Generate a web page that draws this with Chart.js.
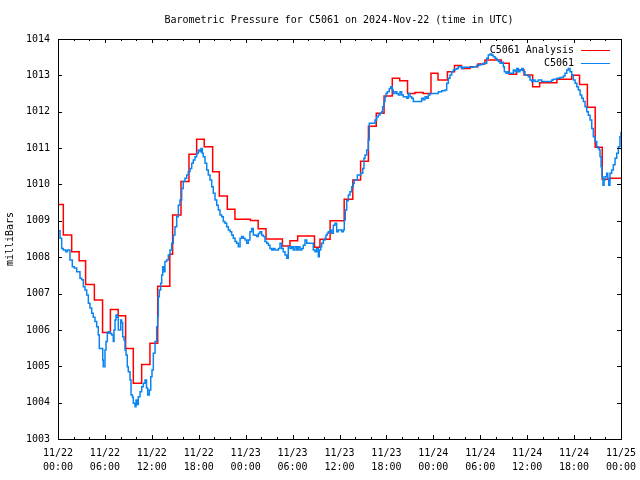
<!DOCTYPE html>
<html>
<head>
<meta charset="utf-8">
<title>Barometric Pressure for C5061</title>
<script src="https://cdn.jsdelivr.net/npm/chart.js@4.4.1/dist/chart.umd.min.js"></script>
<style>
    html, body { margin: 0; padding: 0; background: #fff; }
    canvas { display: block; }
</style>
</head>
<body>
<canvas id="pressureChart" width="640" height="480"></canvas>
<script>
// hours since 11/22 00:00 UTC
const dateLabels = ['11/22', '11/22', '11/22', '11/22', '11/23', '11/23', '11/23', '11/23', '11/24', '11/24', '11/24', '11/24', '11/25'];
const timeLabels = ['00:00', '06:00', '12:00', '18:00', '00:00', '06:00', '12:00', '18:00', '00:00', '06:00', '12:00', '18:00', '00:00'];

// C5061 Analysis (step line)
const analysisHours = [
    0, 0.68, 1.75, 2.7, 3.53, 4.65, 5.7, 6.7, 7.7, 8.65,
    9.63, 10.7, 11.76, 12.75, 14.3, 14.66, 15.73, 16.75, 17.73, 18.7,
    19.78, 20.63, 21.65, 22.63, 24.6, 25.6, 26.6, 28.7, 29.67, 30.65,
    32.8, 33.5, 34.8, 36.6, 37.7, 38.7, 39.7, 40.7, 41.7, 42.75,
    43.7, 44.7, 45.65, 46.7, 47.7, 48.6, 49.8, 50.7, 51.6, 52.7,
    53.7, 54.6, 56.7, 57.7, 58.65, 59.6, 60.7, 61.6, 63.8, 65.7,
    66.7, 67.7, 68.7, 69.6, 70.6, 72
];
const analysisPressure = [
    1009.45, 1008.61, 1008.15, 1007.9, 1007.25, 1006.82, 1005.93, 1006.56, 1006.39, 1005.49,
    1004.53, 1005.05, 1005.63, 1007.2, 1008.08, 1009.16, 1010.08, 1010.83, 1011.24, 1011.04,
    1010.35, 1009.68, 1009.32, 1009.04, 1009.01, 1008.78, 1008.5, 1008.31, 1008.45, 1008.58,
    1008.27, 1008.49, 1009.0, 1009.59, 1010.12, 1010.64, 1011.6, 1011.96, 1012.43, 1012.92,
    1012.85, 1012.5, 1012.53, 1012.5, 1013.06, 1012.87, 1013.1, 1013.27, 1013.19, 1013.24,
    1013.31, 1013.42, 1013.33, 1013.03, 1013.15, 1013.01, 1012.69, 1012.8, 1012.89, 1013.0,
    1012.75, 1012.12, 1011.02, 1010.14, 1010.17, 1010.17
];

// C5061 observations
const stationHours = [
    0.13, 0.26, 0.47, 0.68, 0.98, 1.21, 1.53, 1.83, 2.08, 2.39,
    2.81, 3.03, 3.24, 3.45, 3.67, 3.88, 4.09, 4.31, 4.51, 4.73,
    4.95, 5.15, 5.28, 5.72, 5.79, 6.01, 6.14, 6.31, 6.43, 6.65,
    6.87, 7.07, 7.16, 7.29, 7.42, 7.58, 7.71, 7.84, 8.02, 8.15,
    8.27, 8.44, 8.57, 8.7, 8.86, 8.99, 9.21, 9.34, 9.53, 9.63,
    9.85, 9.98, 10.1, 10.27, 10.49, 10.7, 10.91, 11.13, 11.32, 11.47,
    11.68, 11.86, 12.02, 12.19, 12.41, 12.62, 12.75, 12.83, 12.96, 13.13,
    13.26, 13.39, 13.52, 13.68, 13.9, 14.11, 14.32, 14.54, 14.75, 14.96,
    15.18, 15.39, 15.6, 15.82, 16.02, 16.24, 16.46, 16.66, 16.88, 17.1,
    17.3, 17.52, 17.74, 17.94, 18.16, 18.29, 18.45, 18.58, 18.8, 19.02,
    19.22, 19.44, 19.66, 19.86, 20.08, 20.3, 20.5, 20.72, 20.94, 21.14,
    21.36, 21.57, 21.78, 22.0, 22.21, 22.42, 22.64, 22.85, 23.06, 23.28,
    23.49, 23.7, 23.92, 24.13, 24.34, 24.55, 24.77, 24.98, 25.19, 25.41,
    25.62, 25.83, 26.05, 26.26, 26.47, 26.69, 26.9, 27.11, 27.33, 27.54,
    27.75, 27.97, 28.18, 28.39, 28.61, 28.81, 29.03, 29.25, 29.45, 29.67,
    29.89, 30.09, 30.31, 30.53, 30.73, 30.95, 31.17, 31.37, 31.59, 31.81,
    32.01, 32.23, 32.44, 32.65, 32.87, 33.08, 33.29, 33.42, 33.6, 33.72,
    33.93, 34.15, 34.27, 34.44, 34.57, 34.79, 35.0, 35.21, 35.43, 35.64,
    35.85, 36.06, 36.28, 36.49, 36.61, 36.74, 36.92, 37.13, 37.34, 37.56,
    37.77, 37.89, 38.11, 38.28, 38.53, 38.71, 38.97, 39.13, 39.26, 39.48,
    39.68, 39.81, 40.16, 40.54, 40.76, 40.96, 41.18, 41.4, 41.52, 41.69,
    41.82, 41.95, 42.11, 42.37, 42.55, 42.68, 42.75, 42.88, 43.1, 43.32,
    43.52, 43.74, 43.95, 44.16, 44.38, 44.59, 44.8, 45.02, 45.23, 45.44,
    45.87, 46.3, 46.51, 46.72, 46.94, 47.15, 47.36, 47.57, 48.0, 48.43,
    48.64, 49.07, 49.49, 49.71, 49.92, 50.13, 50.35, 50.55, 50.77, 50.99,
    51.19, 51.63, 51.83, 52.27, 52.69, 53.12, 53.55, 53.97, 54.39, 54.83,
    55.03, 55.25, 55.47, 55.67, 55.89, 56.11, 56.31, 56.53, 56.75, 56.95,
    57.08, 57.29, 57.51, 57.72, 58.02, 58.23, 58.45, 58.66, 58.87, 59.08,
    59.3, 59.51, 59.72, 59.94, 60.15, 60.36, 60.58, 60.78, 61.0, 61.42,
    61.86, 62.28, 62.92, 63.14, 63.34, 63.78, 64.2, 64.62, 64.84, 65.06,
    65.26, 65.48, 65.7, 65.91, 66.13, 66.35, 66.55, 66.77, 66.98, 67.18,
    67.4, 67.62, 67.82, 68.04, 68.26, 68.46, 68.68, 68.9, 69.1, 69.23,
    69.32, 69.45, 69.57, 69.7, 69.83, 69.96, 70.17, 70.3, 70.43, 70.59,
    70.81, 71.02, 71.24, 71.45, 71.66, 71.87, 72.0
];
const stationPressure = [
    1008.73, 1008.52, 1008.24, 1008.2, 1008.15, 1008.2, 1007.92, 1007.74, 1007.7, 1007.6,
    1007.42, 1007.38, 1007.19, 1007.1, 1006.96, 1006.73, 1006.6, 1006.46, 1006.35, 1006.23,
    1006.09, 1005.86, 1005.49, 1005.17, 1004.99, 1005.45, 1005.68, 1005.91, 1005.95, 1005.9,
    1005.86, 1005.68, 1006.0, 1006.27, 1006.41, 1006.35, 1006.0, 1006.0, 1006.27, 1006.2,
    1005.81, 1005.72, 1005.45, 1005.31, 1004.99, 1004.85, 1004.62, 1004.21, 1004.15, 1003.98,
    1003.89, 1004.07, 1003.95, 1004.16, 1004.3, 1004.44, 1004.53, 1004.62, 1004.4, 1004.21,
    1004.35, 1004.71, 1004.9, 1005.36, 1005.68, 1006.09, 1006.37, 1006.91, 1007.1, 1007.28,
    1007.51, 1007.74, 1007.6, 1007.88, 1007.92, 1008.06, 1008.2, 1008.38, 1008.61, 1008.84,
    1009.11, 1009.43, 1009.57, 1009.89, 1010.08, 1010.17, 1010.26, 1010.35, 1010.44, 1010.58,
    1010.67, 1010.76, 1010.86, 1010.95, 1010.9, 1010.99, 1010.86, 1010.76, 1010.58, 1010.4,
    1010.26, 1010.12, 1009.94, 1009.76, 1009.57, 1009.43, 1009.3, 1009.16, 1009.11, 1008.98,
    1008.93, 1008.84, 1008.75, 1008.7, 1008.61, 1008.52, 1008.43, 1008.38, 1008.29, 1008.52,
    1008.57, 1008.52, 1008.47, 1008.38, 1008.47, 1008.7, 1008.79, 1008.61, 1008.6, 1008.57,
    1008.65, 1008.7, 1008.6, 1008.57, 1008.43, 1008.38, 1008.33, 1008.24, 1008.2, 1008.24,
    1008.2, 1008.2, 1008.24, 1008.38, 1008.24, 1008.15, 1008.06, 1007.97, 1008.29, 1008.24,
    1008.29, 1008.2, 1008.29, 1008.2, 1008.29, 1008.2, 1008.24, 1008.33, 1008.47, 1008.38,
    1008.38, 1008.38, 1008.38, 1008.2, 1008.15, 1008.24, 1008.01, 1008.2, 1008.29, 1008.38,
    1008.47, 1008.52, 1008.61, 1008.66, 1008.7, 1008.75, 1008.66, 1008.88, 1008.93, 1008.7,
    1008.75, 1008.75, 1008.7, 1008.75, 1009.02, 1009.3, 1009.55, 1009.71, 1009.8, 1009.94,
    1010.03, 1010.12, 1010.12, 1010.26, 1010.26, 1010.31, 1010.44, 1010.72, 1010.81, 1010.95,
    1011.22, 1011.68, 1011.68, 1011.77, 1011.86, 1011.91, 1011.96, 1012.0, 1012.14, 1012.28,
    1012.41, 1012.5, 1012.55, 1012.64, 1012.69, 1012.69, 1012.6, 1012.5, 1012.55, 1012.5,
    1012.46, 1012.55, 1012.46, 1012.41, 1012.41, 1012.37, 1012.5, 1012.41, 1012.37, 1012.28,
    1012.28, 1012.28, 1012.37, 1012.33, 1012.41, 1012.37, 1012.46, 1012.5, 1012.5, 1012.5,
    1012.55, 1012.58, 1012.6, 1012.78, 1012.92, 1013.01, 1013.1, 1013.15, 1013.17, 1013.19,
    1013.24, 1013.19, 1013.22, 1013.22, 1013.22, 1013.24, 1013.28, 1013.3, 1013.33, 1013.47,
    1013.56, 1013.59, 1013.55, 1013.51, 1013.47, 1013.42, 1013.38, 1013.33, 1013.36, 1013.24,
    1013.1, 1013.06, 1013.1, 1013.06, 1013.06, 1013.15, 1013.1, 1013.19, 1013.1, 1013.15,
    1013.19, 1013.1, 1013.01, 1013.01, 1012.96, 1012.87, 1012.83, 1012.87, 1012.83, 1012.87,
    1012.83, 1012.83, 1012.83, 1012.87, 1012.89, 1012.92, 1012.94, 1012.98, 1013.06, 1013.15,
    1013.19, 1013.1, 1013.01, 1012.87, 1012.78, 1012.69, 1012.6, 1012.46, 1012.37, 1012.28,
    1012.14, 1012.0, 1011.9, 1011.77, 1011.54, 1011.31, 1011.18, 1011.04, 1010.99, 1010.95,
    1010.76, 1010.49, 1010.21, 1009.98, 1010.12, 1010.21, 1010.31, 1010.17, 1009.98, 1010.31,
    1010.4, 1010.54, 1010.72, 1010.86, 1011.04, 1011.31, 1011.45
];

const FONT = "'DejaVu Sans Mono', 'Liberation Mono', monospace";
const ANALYSIS_COLOR = '#ff0000';
const STATION_COLOR = '#0a84f0';

const toPoints = (xs, ys) => xs.map((h, i) => ({ x: h, y: ys[i] }));

// gnuplot look: frame with inward ticks, title, y label and key
const gnuplotDecor = {
    id: 'gnuplotDecor',
    afterDatasetsDraw(chart) {
        const { ctx, chartArea: a, scales: { x, y } } = chart;
        ctx.save();
        ctx.strokeStyle = '#000';
        ctx.lineWidth = 1;
        ctx.beginPath();
        for (let v = 1003; v <= 1014; v++) {
            const py = Math.round(y.getPixelForValue(v)) + 0.5;
            ctx.moveTo(a.left, py); ctx.lineTo(a.left + 4, py);
            ctx.moveTo(a.right, py); ctx.lineTo(a.right - 4, py);
        }
        for (let h = 0; h <= 72; h += 2) {
            const px = Math.round(x.getPixelForValue(h)) + 0.5;
            const len = h % 6 === 0 ? 4 : 2;
            ctx.moveTo(px, a.bottom); ctx.lineTo(px, a.bottom - len);
            ctx.moveTo(px, a.top); ctx.lineTo(px, a.top + len);
        }
        ctx.stroke();
        ctx.strokeRect(a.left + 0.5, a.top + 0.5, a.right - a.left, a.bottom - a.top);

        // key
        ctx.font = '10px ' + FONT;
        ctx.fillStyle = '#000';
        ctx.textAlign = 'right';
        ctx.textBaseline = 'middle';
        const keys = [['C5061 Analysis', ANALYSIS_COLOR, 50], ['C5061', STATION_COLOR, 63]];
        keys.forEach(([label, color, ky]) => {
            ctx.fillText(label, 574, ky);
            ctx.strokeStyle = color;
            ctx.beginPath();
            ctx.moveTo(581, ky + 0.5);
            ctx.lineTo(610, ky + 0.5);
            ctx.stroke();
        });

        // title and y axis label
        ctx.textAlign = 'center';
        ctx.fillText('Barometric Pressure for C5061 on 2024-Nov-22 (time in UTC)', 339, 20);
        ctx.translate(10, 239);
        ctx.rotate(-Math.PI / 2);
        ctx.fillText('milliBars', 0, 0);
        ctx.restore();
    }
};

new Chart(document.getElementById('pressureChart'), {
    type: 'line',
    data: {
        datasets: [{
            label: 'C5061 Analysis',
            data: toPoints(analysisHours, analysisPressure),
            borderColor: ANALYSIS_COLOR,
            borderWidth: 1.5,
            stepped: 'before',
            pointRadius: 0,
            order: 2
        }, {
            label: 'C5061',
            data: toPoints(stationHours, stationPressure),
            borderColor: STATION_COLOR,
            borderWidth: 1.5,
            stepped: 'before',
            pointRadius: 0,
            order: 1
        }]
    },
    options: {
        responsive: false,
        animation: false,
        devicePixelRatio: 1,
        layout: { padding: { top: 39, right: 19, left: 0, bottom: 0 } },
        plugins: {
            legend: { display: false },
            title: { display: false },
            tooltip: { enabled: false }
        },
        scales: {
            x: {
                type: 'linear',
                min: 0,
                max: 72,
                grid: { display: false, drawTicks: false },
                border: { display: false },
                ticks: {
                    stepSize: 6,
                    autoSkip: false,
                    maxRotation: 0,
                    padding: 7,
                    color: '#000',
                    font: { family: FONT, size: 10, lineHeight: 1.4 },
                    callback: (value) => {
                        const i = Math.round(value / 6);
                        return [dateLabels[i], timeLabels[i]];
                    }
                },
                afterFit: (scale) => {
                    scale.height = 41;
                    scale.paddingLeft = 0;
                    scale.paddingRight = 0;
                }
            },
            y: {
                min: 1003,
                max: 1014,
                grid: { display: false, drawTicks: false },
                border: { display: false },
                ticks: {
                    stepSize: 1,
                    padding: 8,
                    color: '#000',
                    font: { family: FONT, size: 10 },
                    callback: (value) => String(value)
                },
                afterFit: (scale) => {
                    scale.width = 58;
                    scale.paddingTop = 0;
                    scale.paddingBottom = 0;
                }
            }
        }
    },
    plugins: [gnuplotDecor]
});
</script>
</body>
</html>
